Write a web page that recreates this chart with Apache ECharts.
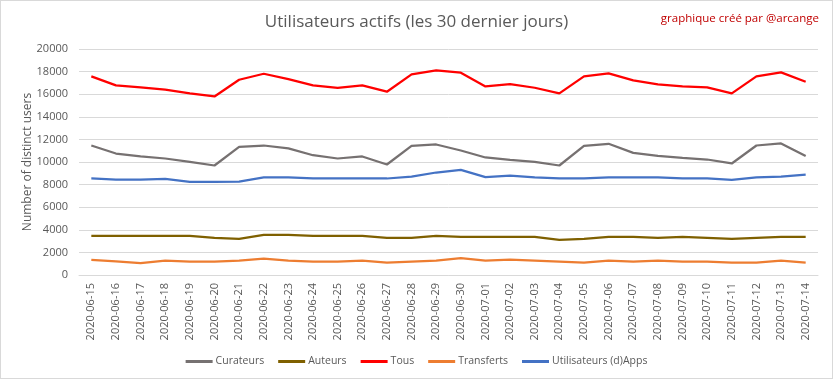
<!DOCTYPE html>
<html>
<head>
<meta charset="utf-8">
<script src="https://cdn.jsdelivr.net/npm/echarts@6/dist/echarts.min.js"></script>
<style>
html,body{margin:0;padding:0;background:#fff;}
#wrap{position:absolute;left:0;top:0;width:831px;height:377px;border:1px solid #d9d9d9;}
#c{position:absolute;left:-1px;top:-1px;width:833px;height:379px;}
</style>
</head>
<body>
<div id="wrap"><div id="c"></div></div>
<script>
const categories = ["2020-06-15","2020-06-16","2020-06-17","2020-06-18","2020-06-19","2020-06-20","2020-06-21","2020-06-22","2020-06-23","2020-06-24","2020-06-25","2020-06-26","2020-06-27","2020-06-28","2020-06-29","2020-06-30","2020-07-01","2020-07-02","2020-07-03","2020-07-04","2020-07-05","2020-07-06","2020-07-07","2020-07-08","2020-07-09","2020-07-10","2020-07-11","2020-07-12","2020-07-13","2020-07-14"];
const curateurs = [11460,10750,10490,10310,10010,9690,11340,11460,11200,10600,10310,10490,9780,11430,11550,11020,10400,10190,10010,9690,11430,11610,10810,10550,10370,10220,9870,11460,11640,10520];
const auteurs = [3460,3460,3460,3460,3460,3280,3190,3550,3550,3460,3460,3460,3280,3280,3460,3370,3370,3370,3370,3100,3190,3370,3370,3280,3370,3280,3190,3280,3370,3370];
const tous = [17580,16780,16600,16400,16070,15800,17280,17810,17340,16780,16570,16780,16220,17750,18100,17900,16690,16900,16570,16070,17580,17840,17220,16870,16690,16600,16070,17580,17930,17100];
const transferts = [1330,1210,1060,1270,1180,1180,1270,1450,1270,1180,1180,1270,1090,1180,1270,1500,1270,1360,1270,1180,1090,1270,1180,1270,1180,1180,1090,1090,1270,1090];
const dapps = [8540,8450,8450,8510,8240,8240,8270,8630,8630,8540,8540,8540,8540,8710,9070,9310,8660,8800,8630,8540,8540,8630,8630,8630,8540,8540,8420,8630,8710,8890];
const yTicks = {min:0, max:20000, interval:2000};

const FONT = "'Open Sans', 'Noto Sans', sans-serif";
const TXT = '#595959';
function s(name, data, color){
  return {name, type:'line', data, symbol:'none', smooth:false,
    lineStyle:{color, width:2.25}, itemStyle:{color}};
}
const chart = echarts.init(document.getElementById('c'), null, {renderer:'canvas'});
chart.setOption({
  animation:false,
  textStyle:{fontFamily:FONT},
  title:[
    {text:'Utilisateurs actifs (les 30 dernier jours)', left:'center', top:9,
     textStyle:{fontFamily:FONT, fontSize:17, fontWeight:'normal', color:TXT}},
    {text:'graphique créé par @arcange', right:9, top:8,
     textStyle:{fontFamily:FONT, fontSize:11.5, fontWeight:'normal', color:'#c00000'}}
  ],
  legend:{bottom:12, left:'center', itemWidth:27, itemHeight:3, itemGap:14, icon:'rect',
    textStyle:{fontFamily:FONT, fontSize:10.5, color:TXT, padding:[0,0,0,-2]}, padding:0},
  grid:{left:79, right:15, top:49, bottom:104, containLabel:false, outerBoundsMode:'none'},
  xAxis:{type:'category', data:categories, boundaryGap:true,
    axisLine:{show:true, lineStyle:{color:'#d9d9d9'}}, axisTick:{show:false},
    axisLabel:{rotate:90, interval:0, color:TXT, fontSize:11, fontFamily:FONT, margin:8}},
  yAxis:{type:'value', min:yTicks.min, max:yTicks.max, interval:yTicks.interval,
    name:'Number of distinct users', nameLocation:'middle', nameGap:45, nameRotate:90,
    nameMoveOverlap:false,
    nameTextStyle:{color:TXT, fontSize:12, fontFamily:FONT},
    axisLine:{show:false}, axisTick:{show:false},
    axisLabel:{color:TXT, fontSize:11, fontFamily:FONT, margin:11, formatter:v=>String(v)},
    splitLine:{lineStyle:{color:'#d9d9d9'}}},
  series:[
    s('Curateurs', curateurs, '#767171'),
    s('Auteurs', auteurs, '#7f6000'),
    s('Tous', tous, '#ff0000'),
    s('Transferts', transferts, '#ed7d31'),
    s('Utilisateurs (d)Apps', dapps, '#4472c4')
  ]
});
</script>
</body>
</html>
